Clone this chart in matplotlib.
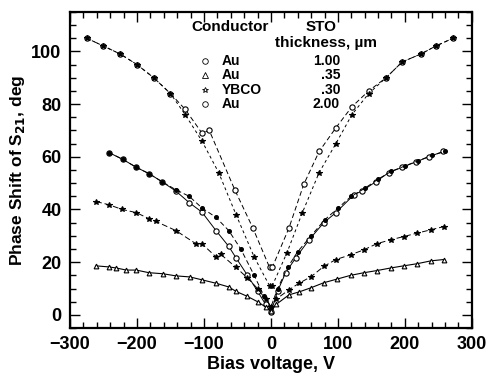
"""Phase shift of S21 versus bias voltage for four conductor / STO samples."""

import matplotlib
matplotlib.use("Agg")
import matplotlib.pyplot as plt
from matplotlib.ticker import MultipleLocator

plt.rcParams["font.family"] = ["Liberation Sans", "DejaVu Sans"]
plt.rcParams["font.weight"] = "bold"
plt.rcParams["mathtext.default"] = "bf"

# --- data (bias V, phase deg) ------------------------------------------------
# Au 2.00 um, upper sweep (open ovals)
top_a_v = [-275, -250, -225, -200, -175, -150, -128, -103, -92, -54, -27, -2,
           2, 27, 49, 72, 97, 121, 146, 172, 196, 224, 246, 272]
top_a_y = [105, 102, 99, 95, 90, 84, 78, 69, 70, 47.5, 33, 18,
           18, 33, 49.5, 62, 71, 79, 85, 90, 96, 99, 102, 105]
# Au 2.00 um, lower sweep (filled)
top_b_v = [-275, -250, -225, -200, -175, -150, -128, -103, -78, -52, -25, -2,
           2, 24, 47, 72, 97, 121, 146, 172, 196, 224, 246, 272]
top_b_y = [105, 102, 99, 95, 90, 84, 76, 66, 54, 38, 22, 11,
           11, 23.6, 38.8, 54, 65, 76, 84, 90, 96, 99, 102, 105]

# Au 1.00 um (open circles)
au1_v = [-242, -221, -201, -182, -163, -142, -122, -103, -82, -63, -52, -35,
         -20, -8, 0, 10, 22, 37, 57, 79, 97, 124, 136, 157, 176, 196, 216,
         236, 257]
au1_y = [61.6, 59, 56, 53.6, 50.6, 47, 42.6, 39, 32, 26, 21.6, 15,
         9, 4, 1, 9, 16, 21.6, 28.5, 35, 38.8, 45.6, 47, 50.6, 54, 56, 58,
         60, 62]
# second sweep on the same sample (small dots)
au1b_v = [-242, -221, -201, -182, -163, -142, -122, -103, -82, -63, -45, -25,
          -10, 0, 10, 25, 40, 60, 80, 100, 120, 140, 160, 180, 200, 220,
          240, 260]
au1b_y = [61.6, 59, 56, 53.6, 50.6, 47.5, 45, 40.6, 37, 32, 25, 15,
          7, 3, 10, 18, 24, 30, 36, 40.5, 45, 48, 51.5, 54.5, 56.5, 58.5,
          60.5, 62]

# YBCO 0.30 um (stars)
ybco_v = [-261, -242, -222, -201, -182, -172, -142, -112, -103, -82, -75,
          -52, -35, -20, -8, 0, 8, 27, 42, 60, 79, 97, 119, 139, 158, 179,
          198, 218, 239, 258]
ybco_y = [43, 41.8, 40, 38.8, 36.5, 35.5, 32, 27, 27, 22, 23, 18, 14, 10,
          6, 3, 6, 9.5, 12, 14.5, 18.4, 21, 22.8, 24.7, 27, 28.5, 29.7, 31,
          32.3, 33.5]

# Au 0.35 um (triangles)
au35_v = [-261, -242, -231, -216, -201, -182, -161, -142, -121, -103, -82,
          -63, -52, -35, -20, -8, 0, 8, 27, 42, 60, 79, 99, 119, 139, 158,
          179, 198, 218, 239, 258]
au35_y = [18.6, 18.2, 17.8, 17, 17, 16, 15.6, 14.8, 14.4, 13.3, 12, 10.6,
          8.9, 7, 5, 3, 1.5, 4, 7.6, 8.7, 10.3, 12.2, 13.6, 15, 16, 16.8,
          17.8, 18.6, 19.4, 20.5, 21]

legend_names = ["Au", "Au", "YBCO", "Au"]
legend_thick = ["1.00", ".35", ".30", "2.00"]
legend_marks = ["o", "^", "*", "o"]


fig = plt.figure(figsize=(4.89, 3.81), dpi=100)
ax = fig.add_axes([0.143, 0.139, 0.822, 0.830])

k = dict(color="black", lw=0.7, ms=3.8, mew=0.8)
ax.plot(top_a_v, top_a_y, ls=(0, (5, 3)), marker="o", mfc="white", **k)
ax.plot(top_b_v, top_b_y, ls=(0, (3, 3)), marker="*", mfc="black", **k)
ax.plot(au1_v, au1_y, ls="-", marker="o", mfc="white", **k)
ax.plot(au1b_v, au1b_y, ls=(0, (5, 3)), marker="o", mfc="black",
        color="black", lw=0.7, ms=2.6)
ax.plot(ybco_v, ybco_y, ls=(0, (6, 3)), marker="*", mfc="black", **k)
ax.plot(au35_v, au35_y, ls="-", marker="^", mfc="white", color="black",
        lw=0.8, ms=3.4, mew=0.8)

ax.set_xlim(-300, 300)
ax.set_ylim(-5, 115)
ax.xaxis.set_major_locator(MultipleLocator(100))
ax.xaxis.set_minor_locator(MultipleLocator(20))
ax.yaxis.set_major_locator(MultipleLocator(20))
ax.yaxis.set_minor_locator(MultipleLocator(5))
ax.tick_params(which="both", direction="in", top=True, right=True,
               labelsize=13, width=1)
ax.tick_params(which="major", length=7, pad=6)
ax.tick_params(which="minor", length=4)
for s in ax.spines.values():
    s.set_linewidth(1.6)
for lab in ax.get_xticklabels() + ax.get_yticklabels():
    lab.set_fontweight("bold")

ax.set_xlabel("Bias voltage, V", fontsize=13, fontweight="bold", labelpad=2)
ax.set_ylabel("Phase Shift of S$_{21}$, deg", fontsize=12.5,
              fontweight="bold", labelpad=3)

# hand-made legend table
hk = dict(transform=ax.transAxes, fontsize=11, fontweight="bold",
          va="center")
rk = dict(hk, fontsize=10)
ax.text(0.303, 0.953, "Conductor", ha="left", **hk)
ax.text(0.624, 0.953, "STO", ha="center", **hk)
ax.text(0.637, 0.902, "thickness, µm", ha="center", **hk)
rows_y = [0.845, 0.800, 0.754, 0.709]
for yy, name, th, mk in zip(rows_y, legend_names, legend_thick, legend_marks):
    ax.plot([0.336], [yy], marker=mk, ms=4, mfc="white", mec="black",
            mew=0.6, transform=ax.transAxes, ls="none")
    ax.text(0.378, yy, name, ha="left", **rk)
    ax.text(0.672, yy, th, ha="right", **rk)

fig.savefig("out.png", dpi=100)
